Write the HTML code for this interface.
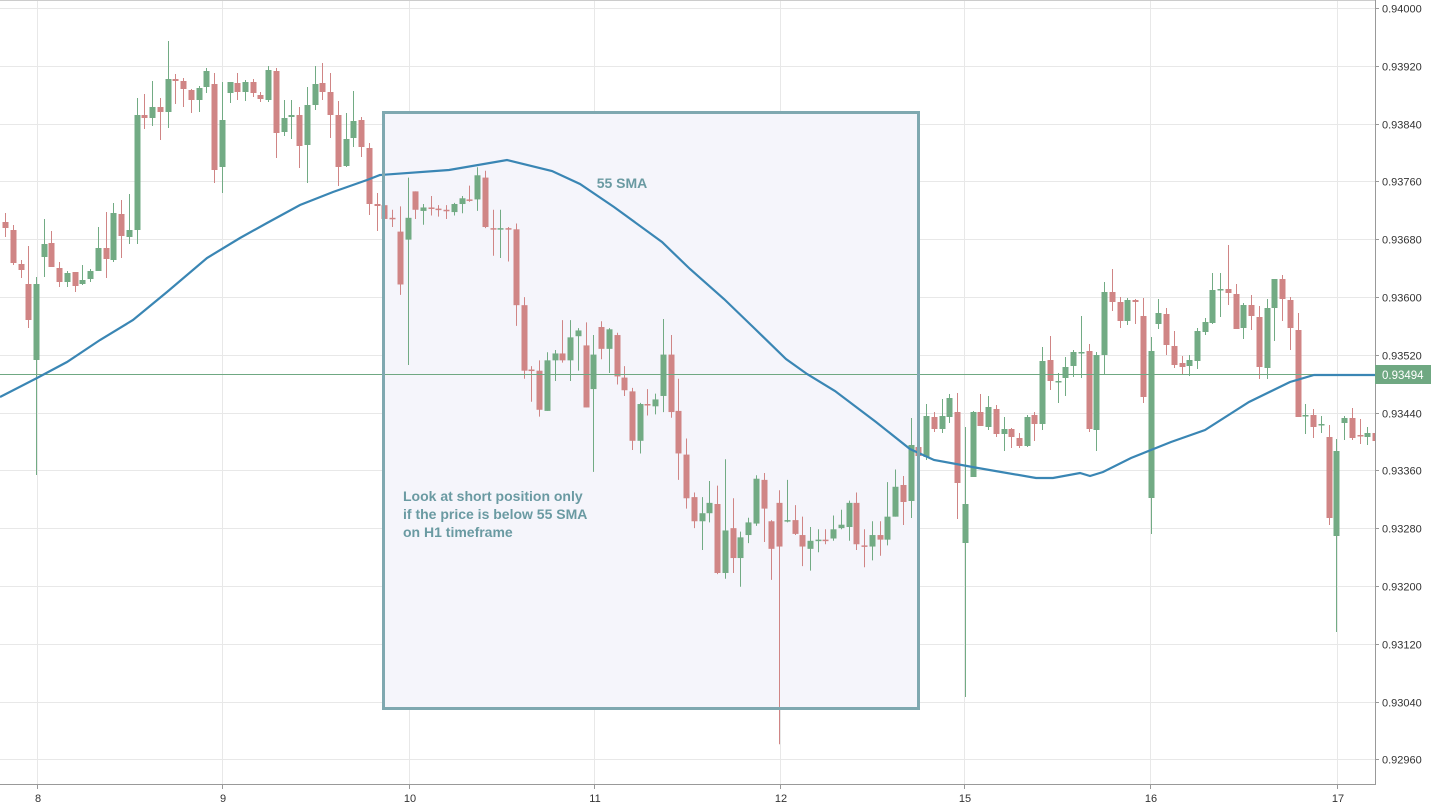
<!DOCTYPE html>
<html><head><meta charset="utf-8"><style>
html,body{margin:0;padding:0;background:#fff;overflow:hidden}
svg{display:block}
text{font-family:"Liberation Sans",sans-serif}
</style></head><body>
<svg id="s" width="1431" height="808" xmlns="http://www.w3.org/2000/svg">
<defs><clipPath id="cp"><rect x="0" y="0" width="1375" height="784"/></clipPath></defs>
<rect width="1431" height="808" fill="#fff"/>
<g id="grid" stroke="#e8e8e8" stroke-width="1"></g>
<rect x="383" y="112" width="536" height="597" fill="#f5f5fb"/>
<g id="c" clip-path="url(#cp)"></g>
<line x1="0" y1="374.5" x2="1375" y2="374.5" stroke="#6fa882" stroke-width="1"/>
<polyline id="sma" fill="none" stroke="#3a86b4" stroke-width="2.2" points="0,397 37,378 67,362 100,340 133,320 167,292 207,258 240,238 267,223 300,205 333,192 367,180 380,175 449,170 507,160 552,171 580,184 614,207 662,242 690,269 724,299 752,326 786,359 807,374 835,391 876,422 910,449 934,460 978,468 1036,478 1053,478 1080,473 1090,476 1103,472 1131,458 1171,442 1205,430 1249,402 1290,382 1314,375 1375,375"/>
<rect x="383.5" y="112.5" width="535" height="596" fill="none" stroke="#7fa8b0" stroke-width="3"/>
<text x="622" y="188" font-size="14" font-weight="bold" fill="#6a9aa2" text-anchor="middle">55 SMA</text>
<text font-size="14" font-weight="bold" fill="#6a9aa2"><tspan x="403" y="501">Look at short position only</tspan><tspan x="403" y="519">if the price is below 55 SMA</tspan><tspan x="403" y="537">on H1 timeframe</tspan></text>
<line x1="1375.5" y1="0" x2="1375.5" y2="785" stroke="#999"/>
<line x1="0" y1="784.5" x2="1376" y2="784.5" stroke="#999"/>
<line x1="0" y1="0.5" x2="1375" y2="0.5" stroke="#ccc"/>
<g id="ax" font-size="11" fill="#333"></g>
<rect x="1375" y="365" width="56" height="19" fill="#6fa882"/>
<text x="1382" y="379" font-size="11.5" fill="#fff">0.93494</text>
</svg>
<script>
var NS="http://www.w3.org/2000/svg";
function el(p,t,a,txt){var e=document.createElementNS(NS,t);for(var k in a)e.setAttribute(k,a[k]);if(txt)e.textContent=txt;p.appendChild(e);return e;}
var g=document.getElementById('grid'),ax=document.getElementById('ax');
var labels=["0.94000","0.93920","0.93840","0.93760","0.93680","0.93600","0.93520","0.93440","0.93360","0.93280","0.93200","0.93120","0.93040","0.92960"];
for(var i=0;i<14;i++){var y=Math.round(8+57.8*i)+0.5;el(g,'line',{x1:0,x2:1375,y1:y,y2:y});el(ax,'line',{x1:1375,x2:1379,y1:y,y2:y,stroke:'#999'});el(ax,'text',{x:1382,y:y+4},labels[i]);}
var days=[[37,"8"],[222,"9"],[409,"10"],[594,"11"],[780,"12"],[964,"15"],[1150,"16"],[1337,"17"]];
days.forEach(function(d){el(g,'line',{x1:d[0]+.5,x2:d[0]+.5,y1:0,y2:784});el(ax,'line',{x1:d[0]+.5,x2:d[0]+.5,y1:785,y2:789,stroke:'#999'});el(ax,'text',{x:d[0]+1,y:802,'text-anchor':'middle'},d[1]);});
var C=[
[5,'r',222,228,213,237],[12,'r',230,263,225,265],[20,'r',264,270,260,278],[28,'r',284,320,246,328],[36,'g',284,360,277,475],
[43,'g',244,257,219,277],[51,'r',243,267,231,267],[59,'r',268,282,262,287],[67,'g',273,282,271,287],[74,'r',272,286,272,292],
[82,'g',280,284,265,285],[90,'g',271,279,269,282],[98,'g',248,271,227,271],[105,'r',248,259,212,278],[113,'g',213,260,203,262],
[121,'r',214,236,200,258],[129,'g',230,237,194,244],[136,'g',115,230,98,244],[144,'r',115,118,94,129],[152,'g',107,118,81,126],
[160,'r',107,112,98,140],[167,'g',79,112,41,128],[175,'r',79,81,74,104],[183,'r',81,89,78,107],[190,'r',90,100,89,113],
[198,'g',88,100,86,112],[206,'g',71,87,68,93],[214,'r',84,170,73,183],[222,'g',120,167,82,193],[229,'g',82,93,82,103],
[237,'r',83,92,73,100],[245,'g',82,92,80,101],[253,'r',82,93,79,97],[260,'r',95,99,92,102],[268,'g',70,100,66,102],
[276,'r',71,133,68,158],[284,'g',118,132,100,136],[292,'g',115,117,100,139],[299,'r',115,146,107,168],[307,'g',105,145,87,183],
[314,'g',84,105,66,110],[322,'r',83,92,63,100],[330,'r',92,115,73,138],[338,'r',115,167,101,186],[345,'g',139,166,113,167],
[353,'g',121,138,91,147],[361,'r',120,147,117,157],[369,'r',148,204,143,215],[376,'r',204,206,193,231],
[384,'r',198,210,195,215],[392,'r',209,210,202,217],[399,'r',221,267,199,276],[407,'g',209,228,174,337],[414,'r',186,202,186,210],
[422,'g',200,203,197,215],[429,'r',200,201,190,207],[437,'r',201,202,198,208],[445,'r',202,203,198,210],[453,'g',197,204,196,207],
[460,'g',192,197,190,205],[467,'r',193,194,181,195],[475,'g',172,193,165,203],[483,'r',174,217,168,218],[490,'r',218,219,202,242],
[497,'g',218,219,202,244],[505,'r',218,219,217,247],[512,'r',219,285,214,303],[520,'r',285,342,278,349],[527,'r',341,342,338,369],
[535,'r',342,376,333,382],[542,'g',333,377,326,377],[550,'g',327,333,324,351],[557,'r',327,333,298,335],[565,'g',313,333,298,351],
[572,'g',307,312,305,342],[580,'r',320,374,300,374],[587,'g',328,358,311,430],[594,'r',304,323,299,332],[601,'g',306,323,305,344],
[608,'r',311,347,309,354],[616,'r',348,359,338,364],[623,'r',360,403,357,411],[630,'g',371,403,370,414],[637,'r',371,372,358,381],
[645,'g',367,373,362,380],[653,'g',328,364,297,378],[660,'r',328,378,311,383],[668,'r',377,414,349,437],[676,'r',415,453,401,462],
[684,'r',452,473,448,479],[691,'g',466,473,452,498],[699,'g',457,466,438,474],[706,'r',458,518,442,519],[714,'g',481,518,419,523],
[721,'r',479,505,453,518],[728,'g',487,505,482,530],[736,'g',474,485,470,492],[744,'g',436,475,433,477],[751,'r',437,462,431,491],
[758,'r',473,497,472,524],[765,'r',457,495,446,667],[773,'g',472,473,437,474],[781,'r',472,484,459,485],[788,'r',485,495,469,512],
[795,'g',490,497,478,516],[802,'g',489,490,480,500],[809,'r',489,490,480,493],[817,'g',480,488,468,490],[824,'g',476,479,463,480],
[831,'g',457,478,455,490],[839,'r',457,493,448,498],[846,'r',494,495,480,513],[854,'g',485,495,473,507],[861,'r',485,489,473,503],
[869,'g',469,489,439,494],[876,'g',443,469,428,469],
[905,'r',485,502,476,525],[911,'g',445,501,418,518],[918,'r',447,456,445,460],[926,'g',416,457,404,460],[934,'r',417,429,412,432],
[941,'g',416,429,399,433],[949,'g',398,417,394,423],[956,'r',412,483,393,519],[963,'g',504,543,427,697],[971,'g',412,477,411,477],
[979,'r',412,426,394,426],[987,'g',407,427,396,430],[994,'r',409,434,405,437],[1001,'g',429,434,417,451],[1009,'r',429,437,428,448],
[1017,'r',438,446,433,448],[1024,'g',417,446,415,447],[1032,'r',415,424,412,441],[1039,'g',361,424,347,430],[1046,'r',360,381,336,390],
[1054,'g',381,382,373,403],[1061,'g',367,378,357,396],[1069,'g',352,366,350,377],[1077,'g',352,353,316,378],[1085,'r',351,429,344,432],
[1092,'g',355,430,352,451],[1099,'g',292,355,282,374],[1109,'r',292,302,269,311],[1116,'r',302,321,297,328],[1124,'g',300,321,298,325],
[1132,'r',300,302,299,324],[1139,'r',316,397,298,403],[1146,'g',351,498,337,534],[1154,'g',313,324,299,329],[1161,'r',314,345,308,355],
[1168,'r',346,365,331,368],[1176,'r',363,367,356,374],[1183,'g',360,366,355,376],[1190,'g',331,361,328,369],[1199,'g',322,332,318,335],
[1206,'g',290,323,273,324],[1215,'g',289,290,273,317],[1223,'r',289,293,245,305],[1230,'r',294,329,284,329],[1238,'g',305,328,303,339],
[1245,'r',305,316,295,330],[1253,'r',317,367,306,379],[1261,'g',308,368,299,379],[1268,'g',279,308,279,341],[1275,'r',279,299,275,321],
[1283,'r',300,328,297,350],[1291,'r',330,417,313,417],[1299,'g',415,416,404,434],[1306,'r',415,427,409,438],[1314,'g',424,425,416,433],
[1321,'r',437,518,425,525],[1329,'g',451,536,439,632],[1336,'g',418,423,416,440],[1344,'r',418,438,408,440],[1351,'r',435,436,419,444],
[1359,'g',433,437,427,445],[1366,'r',433,441,428,445]
];
var cg=document.getElementById('c');
C.forEach(function(c,i){var col=c[1]=='g'?'#72ab84':'#d08585';var x=Math.round(36+(i-4)*7.74);
var a=c[2],b=c[3],wt=c[4],wb=c[5];
if(i>=49&&i<=115){var f=function(v){return 150+(v-150)*1.1494;};a=f(a);b=f(b);wt=f(wt);wb=f(wb);}
el(cg,'line',{x1:x+.5,x2:x+.5,y1:wt,y2:wb,stroke:col,'stroke-width':1});
var h=Math.max(1.5,b-a);el(cg,'rect',{x:x-2.5,y:a,width:6,height:h,fill:col});});
</script>
</body></html>
